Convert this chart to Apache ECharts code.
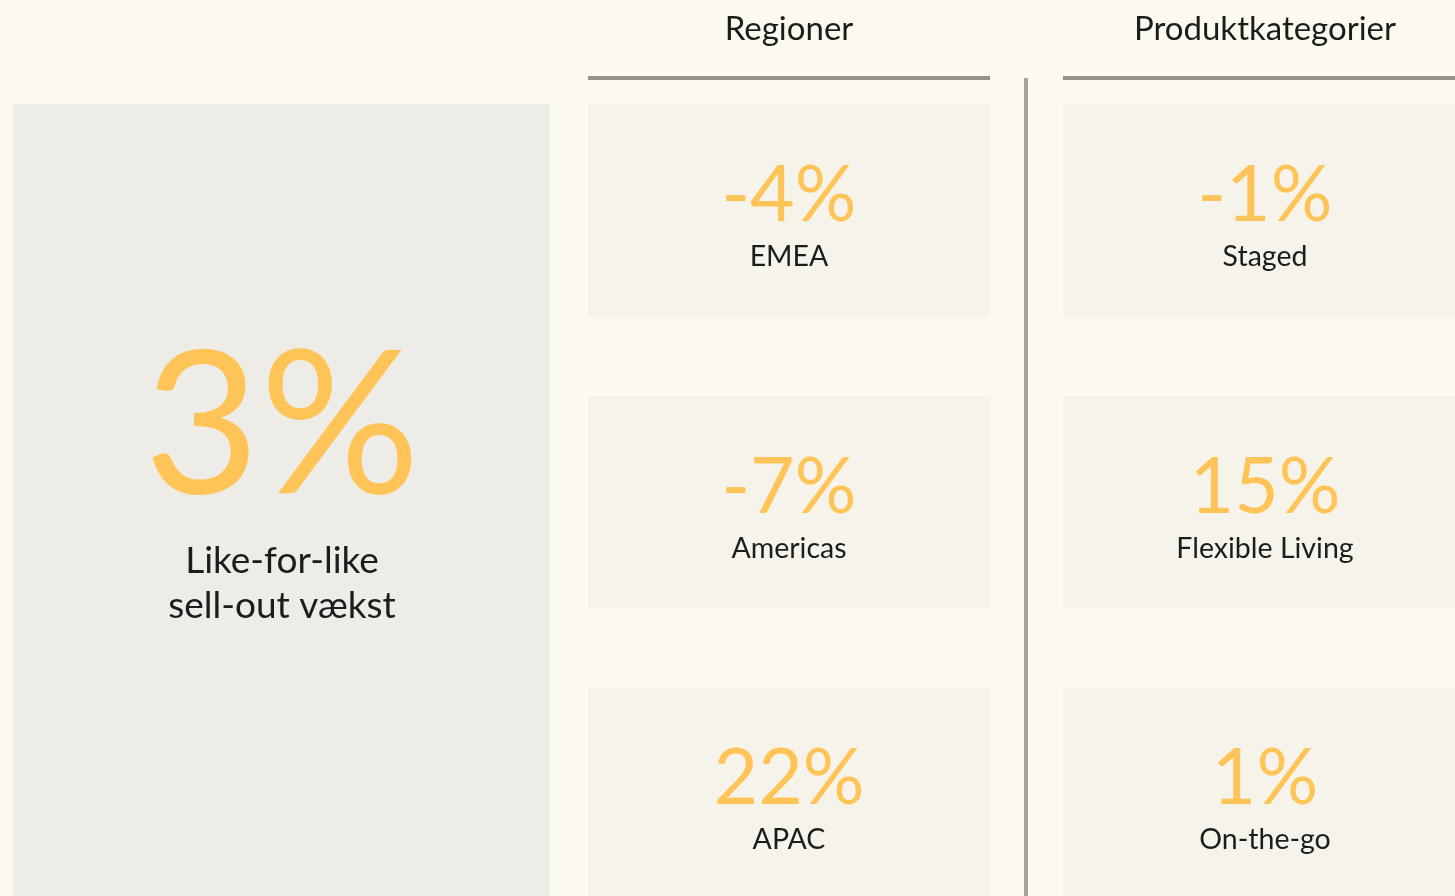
<!DOCTYPE html>
<html>
<head>
<meta charset="utf-8">
<script src="https://cdn.jsdelivr.net/npm/echarts@6/dist/echarts.min.js"></script>
<style>
  html, body { margin: 0; padding: 0; background: #fcf9ee; }
  #chart { width: 1455px; height: 896px; }
</style>
</head>
<body>
<div id="chart"></div>
<script>
  // KPI values
  const totalLabel = ['Like-for-like', 'sell-out vækst'];
  const totalValue = 3;
  const columnTitles = ['Regioner', 'Produktkategorier'];
  const regionNames = ['EMEA', 'Americas', 'APAC'];
  const regionValues = [-4, -7, 22];
  const categoryNames = ['Staged', 'Flexible Living', 'On-the-go'];
  const categoryValues = [-1, 15, 1];

  const FONT = 'Lato, "Open Sans", sans-serif';
  const ORANGE = '#ffc457';
  const DARK = '#1c1c1c';

  const chartObj = echarts.init(document.getElementById('chart'));

  const fmt = v => v + '%';

  const colX = [588, 1063];      // card left edges
  const colW = [402, 404];
  const rowY = [104, 396, 687];
  const cardH = 213;

  const elements = [];

  // big left panel
  elements.push({
    type: 'rect', shape: {x: 13, y: 104, width: 537, height: 800},
    style: {fill: '#eeece7'}
  });
  elements.push({
    type: 'text', x: 282, y: 428,
    style: {text: fmt(totalValue), font: '200px ' + FONT, fill: ORANGE, align: 'center', verticalAlign: 'middle'}
  });
  totalLabel.forEach((t, i) => {
    elements.push({
      type: 'text', x: 282, y: 561 + i * 45,
      style: {text: t, font: '37px ' + FONT, fill: DARK, align: 'center', verticalAlign: 'middle'}
    });
  });

  // divider
  elements.push({
    type: 'rect', shape: {x: 1024, y: 78, width: 4, height: 830},
    style: {fill: '#aba49a'}
  });

  const cols = [
    {names: regionNames, values: regionValues},
    {names: categoryNames, values: categoryValues}
  ];

  cols.forEach((col, c) => {
    const cx = colX[c] + colW[c] / 2;
    elements.push({
      type: 'text', x: cx, y: 29,
      style: {text: columnTitles[c], font: '33px ' + FONT, fill: DARK, align: 'center', verticalAlign: 'middle'}
    });
    elements.push({
      type: 'rect', shape: {x: colX[c], y: 76, width: colW[c], height: 4},
      style: {fill: '#979289'}
    });
    col.names.forEach((name, r) => {
      const y0 = rowY[r];
      elements.push({
        type: 'text', x: cx, y: y0 + 92,
        style: {text: fmt(col.values[r]), font: '77px ' + FONT, fill: ORANGE, align: 'center', verticalAlign: 'middle'}
      });
      elements.push({
        type: 'text', x: cx, y: y0 + 153,
        style: {text: name, font: '28.5px ' + FONT, fill: DARK, align: 'center', verticalAlign: 'middle'}
      });
    });
  });

  // cards drawn first so the text sits on top
  const cards = [];
  colX.forEach((x, c) => rowY.forEach(y0 => {
    cards.push({type: 'rect', shape: {x: x, y: y0, width: colW[c], height: cardH}, style: {fill: '#f6f3eb'}});
  }));

  chartObj.setOption({
    backgroundColor: '#fcf9ee',
    graphic: {elements: cards.concat(elements)}
  });
</script>
</body>
</html>
